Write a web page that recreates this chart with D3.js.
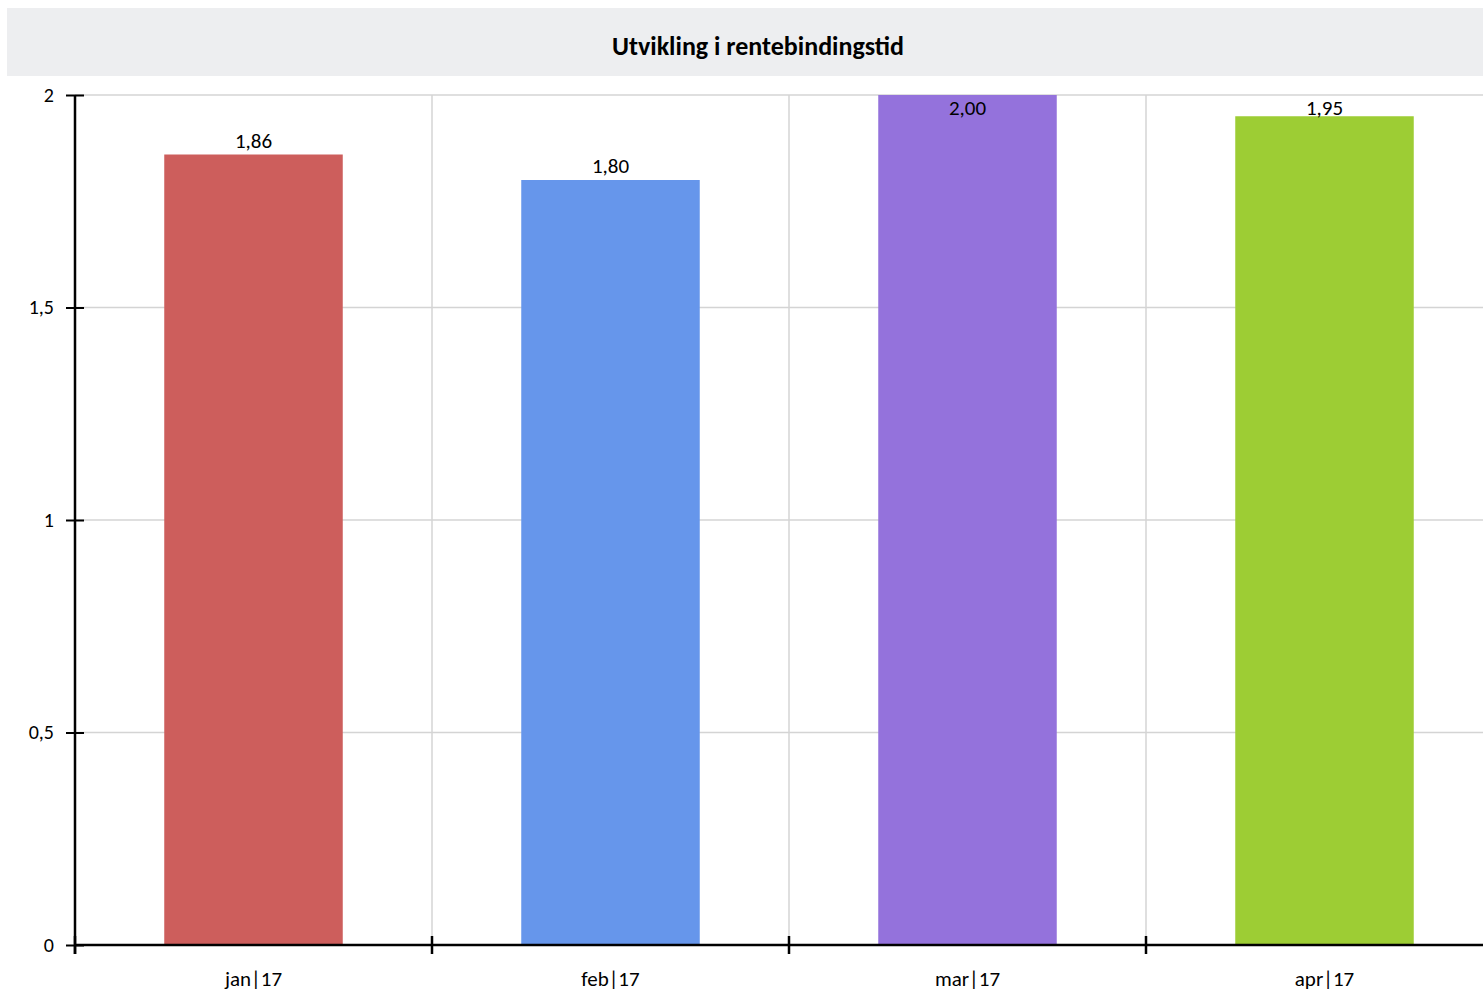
<!DOCTYPE html>
<html>
<head>
<meta charset="utf-8">
<script src="https://cdn.jsdelivr.net/npm/d3@7"></script>
<style>
  body { margin: 0; background: #fff; }
  svg { display: block; font-family: Calibri, Carlito, Lato, sans-serif; }
</style>
</head>
<body>
<svg id="chart"></svg>
<script>
const categories = ['jan|17', 'feb|17', 'mar|17', 'apr|17'];
const values = [1.86, 1.80, 2.00, 1.95];
const colors = ['#cd5e5c', '#6696eb', '#9472dc', '#9dcd34'];
const yTicks = [0, 0.5, 1, 1.5, 2];

const width = 1483;
const height = 991;
const plotLeft = 75, plotTop = 95, plotBottom = 945, bandW = 357;

const svg = d3.select('#chart')
  .attr('width', width)
  .attr('height', height);

// title band
svg.append('rect')
  .attr('x', 7).attr('y', 8)
  .attr('width', width - 7).attr('height', 68)
  .attr('fill', '#edeef0');
svg.append('text')
  .attr('x', 758).attr('y', 55)
  .attr('text-anchor', 'middle')
  .attr('font-size', 26)
  .attr('font-weight', 'bold')
  .attr('fill', '#000')
  .text('Utvikling i rentebindingstid');

const x = d3.scaleBand()
  .domain(categories)
  .range([plotLeft, plotLeft + bandW * categories.length])
  .paddingInner(0)
  .paddingOuter(0);

const y = d3.scaleLinear().domain([0, 2]).range([plotBottom, plotTop]);

const fmt = v => d3.format('.2f')(v).replace('.', ',');
const tickFmt = v => String(v).replace('.', ',');

// horizontal gridlines
svg.append('g')
  .selectAll('line')
  .data(yTicks.filter(d => d > 0))
  .join('line')
  .attr('x1', plotLeft).attr('x2', width)
  .attr('y1', d => y(d)).attr('y2', d => y(d))
  .attr('stroke', '#d4d4d4')
  .attr('stroke-width', 1.5);

// vertical gridlines at band edges
svg.append('g')
  .selectAll('line')
  .data(categories.slice(1))
  .join('line')
  .attr('x1', d => x(d)).attr('x2', d => x(d))
  .attr('y1', plotTop).attr('y2', plotBottom)
  .attr('stroke', '#d4d4d4')
  .attr('stroke-width', 1.5);

// bars
svg.append('g')
  .selectAll('rect')
  .data(values)
  .join('rect')
  .attr('x', (d, i) => x(categories[i]) + x.bandwidth() * 0.25)
  .attr('width', x.bandwidth() * 0.5)
  .attr('y', d => y(d))
  .attr('height', d => y(0) - y(d))
  .attr('fill', (d, i) => colors[i]);

// value labels
svg.append('g')
  .selectAll('text')
  .data(values)
  .join('text')
  .attr('x', (d, i) => x(categories[i]) + x.bandwidth() / 2)
  .attr('y', d => Math.max(y(d) - 7, plotTop + 20))
  .attr('text-anchor', 'middle')
  .attr('font-size', 21)
  .attr('fill', '#000')
  .text(fmt);

// y axis
const yAxis = svg.append('g')
  .attr('transform', `translate(${plotLeft},0)`)
  .call(d3.axisLeft(y).tickValues(yTicks).tickFormat(tickFmt).tickSize(9).tickPadding(12));
yAxis.select('.domain').remove();
yAxis.selectAll('.tick line')
  .attr('x1', -9).attr('x2', 9)
  .attr('stroke', '#000').attr('stroke-width', 2);
yAxis.selectAll('.tick text').attr('font-size', 20).attr('fill', '#000');
yAxis.attr('font-family', null);
yAxis.append('line')
  .attr('x1', 0).attr('x2', 0)
  .attr('y1', plotTop).attr('y2', plotBottom + 9)
  .attr('stroke', '#000').attr('stroke-width', 2.5);

// x axis
const xAxis = svg.append('g')
  .attr('transform', `translate(0,${plotBottom})`);
xAxis.append('line')
  .attr('x1', plotLeft).attr('x2', width)
  .attr('stroke', '#000').attr('stroke-width', 2.5);
xAxis.selectAll('line.edge')
  .data(categories)
  .join('line')
  .attr('class', 'edge')
  .attr('x1', d => x(d)).attr('x2', d => x(d))
  .attr('y1', -9).attr('y2', 9)
  .attr('stroke', '#000').attr('stroke-width', 2.5);
xAxis.selectAll('text')
  .data(categories)
  .join('text')
  .attr('x', d => x(d) + x.bandwidth() / 2)
  .attr('y', 41)
  .attr('text-anchor', 'middle')
  .attr('font-size', 21)
  .attr('fill', '#000')
  .text(d => d);
</script>
</body>
</html>
